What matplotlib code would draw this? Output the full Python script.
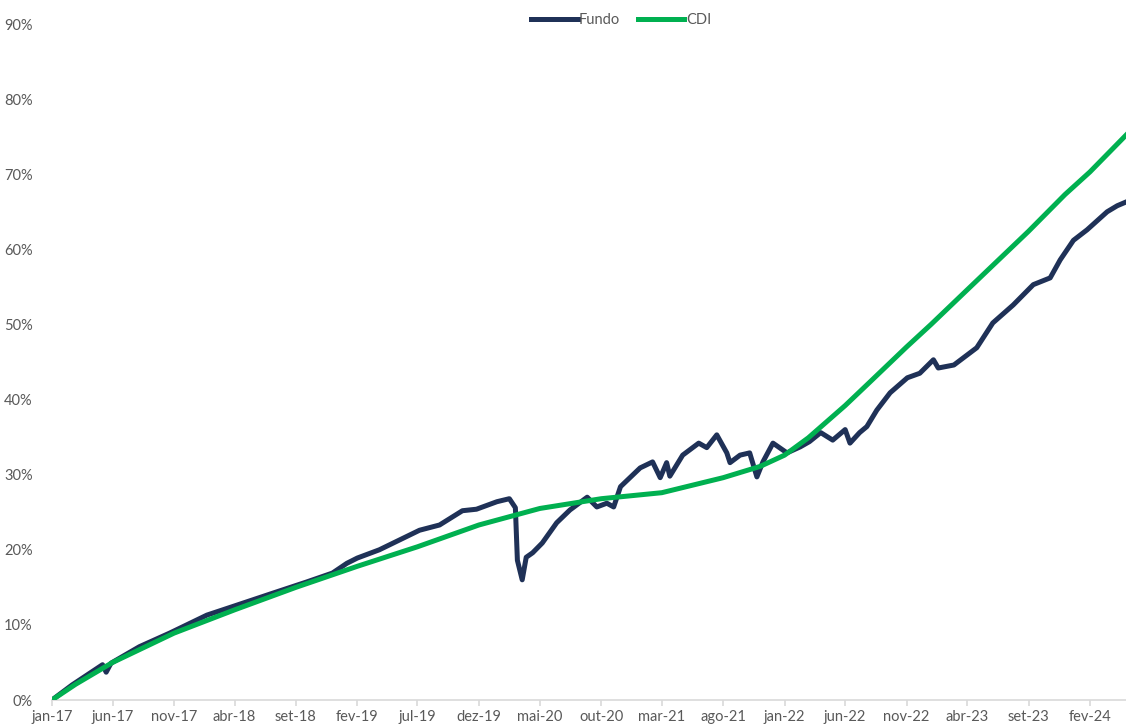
import pandas as pd
import matplotlib.pyplot as plt

plt.rcParams['font.family'] = ['Lato', 'DejaVu Sans']

# Fundo - retorno acumulado (%)
fundo_datas = [
    "2017-01-01", "2017-02-20", "2017-05-07", "2017-05-16", "2017-05-28", "2017-08-07",
    "2017-10-21", "2018-01-22", "2018-03-25", "2018-07-04", "2018-09-27", "2018-12-01",
    "2019-01-06", "2019-02-01", "2019-03-28", "2019-07-06", "2019-08-25", "2019-10-21",
    "2019-11-25", "2020-01-15", "2020-02-15", "2020-03-01", "2020-03-06", "2020-03-18",
    "2020-03-28", "2020-04-13", "2020-05-07", "2020-06-12", "2020-07-15", "2020-08-27",
    "2020-09-20", "2020-10-15", "2020-11-01", "2020-11-18", "2021-01-06", "2021-02-06",
    "2021-02-25", "2021-03-13", "2021-03-21", "2021-04-22", "2021-06-01", "2021-06-21",
    "2021-07-16", "2021-08-10", "2021-08-18", "2021-09-12", "2021-10-06", "2021-10-24",
    "2021-11-08", "2021-12-03", "2022-01-07", "2022-02-09", "2022-03-04", "2022-04-01",
    "2022-05-01", "2022-06-01", "2022-06-13", "2022-07-07", "2022-07-25", "2022-08-19",
    "2022-09-21", "2022-11-03", "2022-12-04", "2023-01-07", "2023-01-19", "2023-02-27",
    "2023-04-25", "2023-06-04", "2023-07-25", "2023-09-13", "2023-10-25", "2023-11-19",
    "2023-12-22", "2024-01-25", "2024-03-15", "2024-04-09", "2024-05-01",
]
fundo = [
    0.0, 2.0, 4.7, 3.7, 4.9, 7.1,
    8.9, 11.3, 12.4, 14.2, 15.7, 16.9,
    18.2, 18.9, 20.0, 22.6, 23.3, 25.2,
    25.4, 26.4, 26.8, 25.6, 18.6, 16.0,
    19.0, 19.6, 20.9, 23.6, 25.3, 27.0,
    25.7, 26.2, 25.7, 28.4, 30.9, 31.7,
    29.6, 31.6, 29.8, 32.6, 34.2, 33.6,
    35.3, 32.9, 31.6, 32.6, 32.9, 29.7,
    31.7, 34.2, 32.9, 33.7, 34.4, 35.6,
    34.6, 36.0, 34.2, 35.6, 36.4, 38.6,
    40.9, 42.9, 43.5, 45.3, 44.2, 44.6,
    46.9, 50.2, 52.6, 55.3, 56.2, 58.6,
    61.2, 62.6, 65.0, 65.8, 66.3,
]

# CDI - retorno acumulado (%)
cdi_datas = [
    "2017-01-01", "2017-03-01", "2017-06-01", "2017-11-01", "2018-04-01", "2018-09-01",
    "2019-02-01", "2019-07-01", "2019-12-01", "2020-05-01", "2020-10-01", "2021-03-01",
    "2021-08-01", "2021-11-01", "2022-01-01", "2022-03-01", "2022-06-01", "2022-08-01",
    "2022-11-01", "2023-01-01", "2023-04-01", "2023-09-01", "2023-12-01", "2024-02-01",
    "2024-05-01",
]
cdi = [
    0.0, 2.1, 5.0, 8.9, 12.0, 15.0,
    17.8, 20.4, 23.3, 25.5, 26.8, 27.6,
    29.6, 31.1, 32.6, 34.9, 39.2, 42.3,
    47.0, 50.0, 54.6, 62.4, 67.3, 70.3,
    75.2,
]

tick_datas = pd.date_range("2017-01-01", "2024-02-01", freq="5MS")
tick_labels = ["jan-17", "jun-17", "nov-17", "abr-18", "set-18", "fev-19", "jul-19",
               "dez-19", "mai-20", "out-20", "mar-21", "ago-21", "jan-22", "jun-22",
               "nov-22", "abr-23", "set-23", "fev-24"]

fig = plt.figure(figsize=(11.26, 7.26), dpi=100)
ax = fig.add_axes([52 / 1126, 26 / 726, 1 - 52 / 1126, 1 - 50 / 726])

ax.plot(pd.to_datetime(fundo_datas), fundo, color="#1F3157", lw=3.6, label="Fundo",
        solid_joinstyle="round", zorder=2)
ax.plot(pd.to_datetime(cdi_datas), cdi, color="#00B050", lw=3.6, label="CDI",
        solid_joinstyle="round", zorder=3)

ax.set_xlim(pd.Timestamp("2017-01-01"), pd.Timestamp("2024-05-01"))
ax.set_ylim(0, 90)
ax.set_yticks(range(0, 91, 10))
ax.set_yticklabels([f"{v}%" for v in range(0, 91, 10)])
ax.set_xticks(tick_datas)
ax.set_xticklabels(tick_labels)

for s in ["top", "right", "left"]:
    ax.spines[s].set_visible(False)
ax.spines["bottom"].set_color("#D9D9D9")
ax.spines["bottom"].set_linewidth(1.2)
ax.tick_params(axis="y", length=0, labelsize=10.5, labelcolor="#595959", pad=14)
ax.tick_params(axis="x", length=4, color="#D9D9D9", width=1.2, labelsize=10.5,
               labelcolor="#595959", pad=3)

fig.legend(loc="center", bbox_to_anchor=(621 / 1126, 1 - 20 / 726), ncol=2, frameon=False,
           fontsize=10.5, labelcolor="#595959", handlelength=3.2, handletextpad=0.1,
           columnspacing=1.2)

fig.savefig("out.png", dpi=100)
